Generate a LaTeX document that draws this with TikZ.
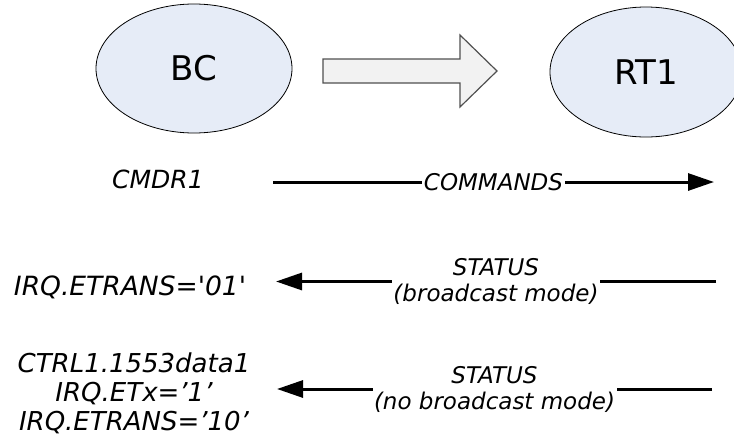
\documentclass[tikz,border=0pt]{standalone}
\usepackage{fontspec}
\setmainfont{DejaVu Sans}
\usetikzlibrary{shapes.geometric,arrows.meta}
\definecolor{ellfill}{RGB}{230,236,247}
\definecolor{blkfill}{RGB}{242,242,242}
\definecolor{blkline}{RGB}{80,80,80}
\begin{document}
\begin{tikzpicture}[x=1pt,y=-1pt,
  unit/.style={ellipse,draw=black,line width=0.8pt,fill=ellfill,font=\fontsize{34}{38}\selectfont,inner sep=0pt},
  lbl/.style={font=\fontsize{26}{29}\selectfont\itshape,inner sep=0pt},
  msg/.style={line width=3pt},
  tag/.style={fill=white,font=\fontsize{23}{26}\selectfont\itshape,align=center,inner xsep=1.5pt,inner ysep=1pt},
  tip/.style={-{Triangle[length=26pt,width=17pt]}}
]
\useasboundingbox (0,0) rectangle (734,442);
\clip (0,0) rectangle (734,442);
\node[unit,minimum width=196pt,minimum height=129pt] (bc) at (194,68.5) {BC};
\node[unit,minimum width=192pt,minimum height=130pt] (rt) at (646,72) {RT1};
\draw[blkline,fill=blkfill,line width=1.2pt,line join=miter]
  (323,59) -- (460,59) -- (460,35) -- (497,71) -- (460,107) -- (460,83) -- (323,83) -- cycle;

\node[lbl,font=\fontsize{25}{29}\selectfont\itshape,anchor=base] (cmdr) at (158,188) {CMDR1};
\node[lbl,font=\fontsize{26.5}{29}\selectfont\itshape,anchor=base] (irq1) at (130,295) {IRQ.ETRANS=\textquotesingle 01\textquotesingle};
\node[lbl,align=center] (ctrl) at (134,393) {CTRL1.1553data1\\IRQ.ETx=’1’\\IRQ.ETRANS=’10’};

\coordinate (c1a) at (273,182);
\coordinate (c1b) at (714,182);
\draw[msg,tip] (c1a) -- node[tag] (cmdlbl) {COMMANDS} (c1b);

\coordinate (s1a) at (716,281.5);
\coordinate (s1b) at (276,281.5);
\draw[msg,tip] (s1a) -- node[tag] (st1) {STATUS\\(broadcast mode)} (s1b);

\coordinate (s2a) at (712,389);
\coordinate (s2b) at (277,389);
\draw[msg,tip] (s2a) -- node[tag] (st2) {STATUS\\(no broadcast mode)} (s2b);
\end{tikzpicture}
\end{document}
